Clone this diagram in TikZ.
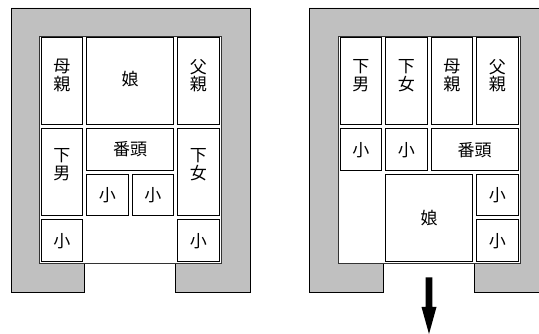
\documentclass[tikz,border=0pt]{standalone}
\usepackage{fontspec}
\newfontfamily\jp{Noto Sans CJK JP}
\definecolor{wallgray}{RGB}{192,192,192}
\def\cw{45.5}
\tikzset{
  wall/.style={fill=wallgray, draw=black, line width=0.9pt},
  opening/.style={draw=black!80, line width=0.8pt},
  tile/.style={draw=black, line width=1pt, fill=white, inner sep=0pt, rectangle},
  lbl/.style={font=\jp\fontsize{17}{17.5}\selectfont, align=center, inner sep=0pt},
}
% #1 name, #2 x0, #3 col, #4 row, #5 w, #6 h
\newcommand{\piece}[6]{%
  \node[tile, minimum width={#5*\cw pt-4pt}, minimum height={#6*\cw pt-4pt}]
    (#1) at ({#2+(#3+#5/2)*\cw}, {36+(#4+#6/2)*\cw}) {};}
\begin{document}
\begin{tikzpicture}[x=1pt, y=-1pt]
\clip (0,0) rectangle (539,334);
% ---------- left puzzle ----------
\draw[wall] (11,292) -- (11,8) -- (250,8) -- (250,292) -- (175.5,292) -- (175.5,263.5)
  -- (221,263.5) -- (221,36) -- (39,36) -- (39,263.5) -- (84.5,263.5) -- (84.5,292) -- cycle;
\draw[opening] (39,36) rectangle (221,263.5);
\piece{La}{39}{0}{0}{1}{2}
\piece{Lb}{39}{1}{0}{2}{2}
\piece{Lc}{39}{3}{0}{1}{2}
\piece{Ld}{39}{0}{2}{1}{2}
\piece{Le}{39}{1}{2}{2}{1}
\piece{Lf}{39}{1}{3}{1}{1}
\piece{Lg}{39}{2}{3}{1}{1}
\piece{Lh}{39}{3}{2}{1}{2}
\piece{Li}{39}{0}{4}{1}{1}
\piece{Lj}{39}{3}{4}{1}{1}
\node[lbl] (tLa) at ([yshift=6pt]La.center) {母\\親};
\node[lbl] (tLb) at ([yshift=2pt]Lb.center) {娘};
\node[lbl] (tLc) at ([yshift=6pt]Lc.center) {父\\親};
\node[lbl] (tLd) at ([yshift=8pt]Ld.center) {下\\男};
\node[lbl] (tLe) at ([yshift=1pt]Le.center) {番頭};
\node[lbl] (tLf) at (Lf.center) {小};
\node[lbl] (tLg) at (Lg.center) {小};
\node[lbl] (tLh) at ([yshift=8pt]Lh.center) {下\\女};
\node[lbl] (tLi) at (Li.center) {小};
\node[lbl] (tLj) at (Lj.center) {小};
% ---------- right puzzle ----------
\draw[wall] (309,292) -- (309,8) -- (548,8) -- (548,292) -- (474.5,292) -- (474.5,263.5)
  -- (520,263.5) -- (520,36) -- (338,36) -- (338,263.5) -- (383.5,263.5) -- (383.5,292) -- cycle;
\draw[opening] (338,36) rectangle (520,263.5);
\piece{Ra}{338}{0}{0}{1}{2}
\piece{Rb}{338}{1}{0}{1}{2}
\piece{Rc}{338}{2}{0}{1}{2}
\piece{Rd}{338}{3}{0}{1}{2}
\piece{Re}{338}{0}{2}{1}{1}
\piece{Rf}{338}{1}{2}{1}{1}
\piece{Rg}{338}{2}{2}{2}{1}
\piece{Rh}{338}{1}{3}{2}{2}
\piece{Ri}{338}{3}{3}{1}{1}
\piece{Rj}{338}{3}{4}{1}{1}
\node[lbl] (tRa) at ([yshift=6pt]Ra.center) {下\\男};
\node[lbl] (tRb) at ([yshift=6pt]Rb.center) {下\\女};
\node[lbl] (tRc) at ([yshift=6pt]Rc.center) {母\\親};
\node[lbl] (tRd) at ([yshift=6pt]Rd.center) {父\\親};
\node[lbl] (tRe) at (Re.center) {小};
\node[lbl] (tRf) at (Rf.center) {小};
\node[lbl] (tRg) at (Rg.center) {番頭};
\node[lbl] (tRh) at (Rh.center) {娘};
\node[lbl] (tRi) at (Ri.center) {小};
\node[lbl] (tRj) at (Rj.center) {小};
% ---------- arrow ----------
\coordinate (arTop) at (429,277.5);
\coordinate (arTip) at (429,334);
\fill[black] ([xshift=-3.3pt]arTop) -- ([xshift=3.3pt]arTop) -- (432.3,307) -- (436.5,307)
  -- (arTip) -- (421.5,307) -- (425.7,307) -- cycle;
\end{tikzpicture}
\end{document}
